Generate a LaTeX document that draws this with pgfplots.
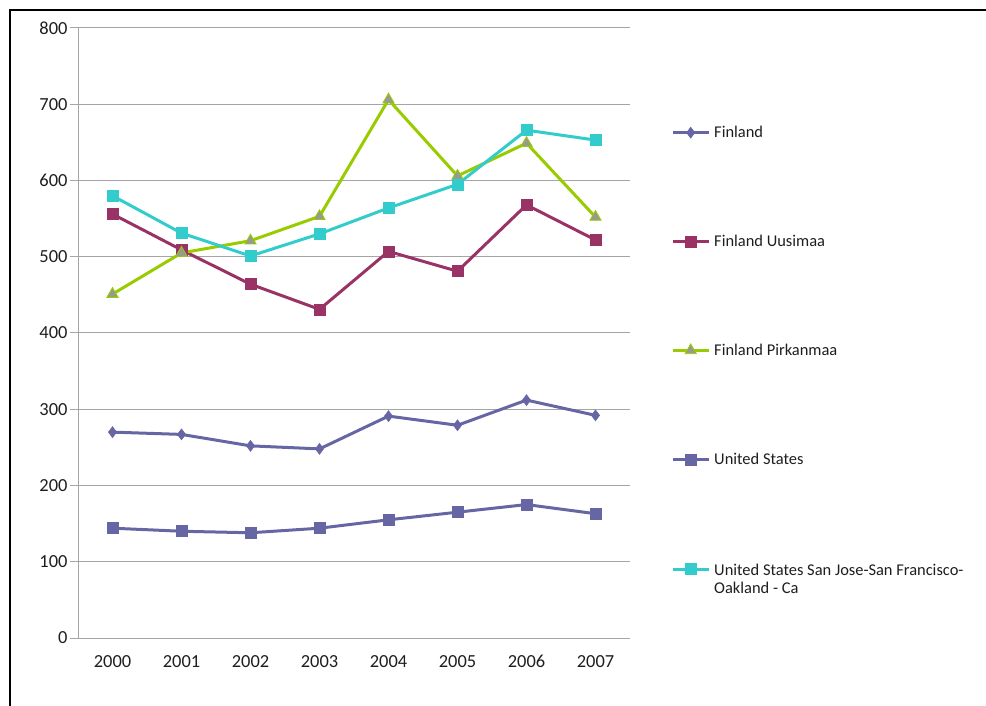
\documentclass[border=0pt]{standalone}
\usepackage{fontspec}
\setmainfont{Carlito}
\usepackage{pgfplots}
\pgfplotsset{compat=1.18}
\definecolor{cfin}{RGB}{102,102,164}
\definecolor{cuus}{RGB}{153,51,102}
\definecolor{cpir}{RGB}{153,204,0}
\definecolor{ctri}{RGB}{150,155,140}
\definecolor{csj}{RGB}{51,204,204}
\definecolor{gridgray}{RGB}{165,165,165}
\definecolor{txt}{RGB}{30,30,30}
\begin{document}
\begin{tikzpicture}
\useasboundingbox (0,0) rectangle (986bp,706bp);
\draw[line width=1.6bp, black] (10bp,0) -- (10bp,696bp) -- (986bp,696bp);
\begin{axis}[
  at={(78bp,68bp)}, anchor=south west,
  scale only axis, width=552bp, height=610bp,
  xmin=-0.5, xmax=7.5, ymin=0, ymax=800,
  xtick={0,...,7}, xticklabels={2000,2001,2002,2003,2004,2005,2006,2007},
  minor xtick={-0.5,0.5,...,7.5},
  ytick={0,100,...,800},
  ymajorgrids, grid style={color=gridgray, line width=1bp},
  axis x line*=bottom, axis y line*=left,
  axis line style={gridgray, line width=1bp, -},
  tick align=outside,
  xtick style={draw=none},
  minor x tick style={gridgray, line width=1bp},
  minor tick length=7bp,
  ytick style={gridgray, line width=1bp},
  major tick length=8bp,
  tick label style={font=\fontsize{18.5}{22}\selectfont, text=txt},
  xticklabel style={yshift=-6bp},
  yticklabel style={xshift=1bp},
  /pgf/number format/assume math mode=true,
  yticklabel style={/pgf/number format/1000 sep={}},
  legend style={at={(1.0743,0.8426)}, anchor=north west, draw=none, fill=none,
    font=\fontsize{16.5}{19}\selectfont, text=txt, row sep=92bp, column sep=2bp,
    inner sep=0pt},
  legend cell align=left,
  legend image code/.code={\draw[mark repeat=2,mark phase=2,#1] plot coordinates {(0bp,0bp)(18bp,0bp)(36bp,0bp)};},
  every axis plot/.append style={line width=3bp},
]
\addplot[cfin, mark=diamond*, mark size=5.5bp, mark options={solid, fill=cfin, line width=0.5bp}] coordinates {
(0,270) (1,267) (2,252) (3,248) (4,291) (5,279) (6,312) (7,292)};
\addlegendentry{Finland}
\addplot[cuus, mark=square*, mark size=5.5bp, mark options={solid, fill=cuus, line width=0.5bp}] coordinates {
(0,556) (1,509) (2,464) (3,431) (4,507) (5,481) (6,568) (7,522)};
\addlegendentry{Finland Uusimaa}
\addplot[cpir, mark=triangle*, mark size=6.5bp, mark options={solid, fill=ctri, draw=cpir, line width=0.8bp}] coordinates {
(0,451) (1,505) (2,521) (3,553) (4,706) (5,606) (6,649) (7,552)};
\addlegendentry{Finland Pirkanmaa}
\addplot[cfin, mark=square*, mark size=5.5bp, mark options={solid, fill=cfin, line width=0.5bp}] coordinates {
(0,144) (1,140) (2,138) (3,144) (4,155) (5,165) (6,175) (7,163)};
\addlegendentry{United States}
\addplot[csj, mark=square*, mark size=5.5bp, mark options={solid, fill=csj, line width=0.5bp}] coordinates {
(0,580) (1,531) (2,501) (3,530) (4,564) (5,595) (6,666) (7,653)};
\addlegendentry{\begin{tabular}[t]{@{}l@{}}United States San Jose-San Francisco-\\Oakland - Ca\end{tabular}}
\end{axis}
\end{tikzpicture}
\end{document}
